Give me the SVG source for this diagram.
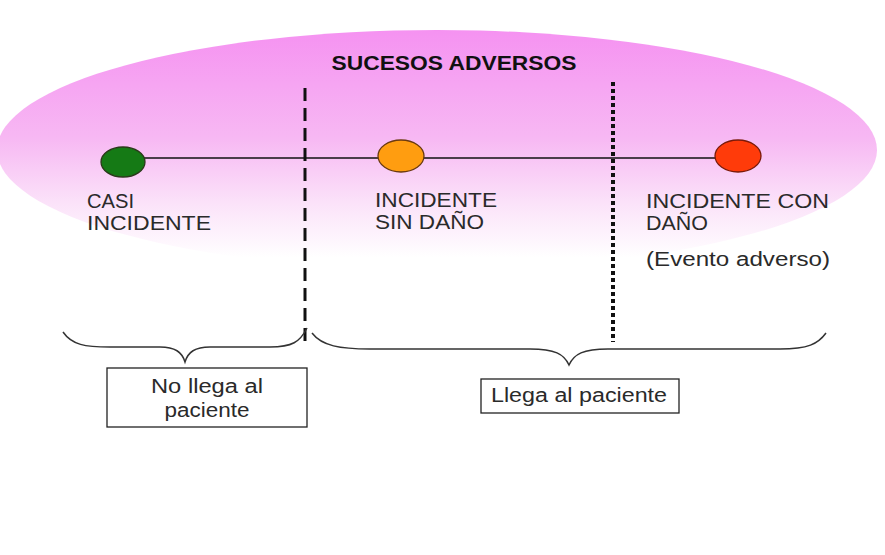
<svg xmlns="http://www.w3.org/2000/svg" width="885" height="555" viewBox="0 0 885 555">
<defs>
<linearGradient id="pink" x1="0" y1="0" x2="0" y2="1">
<stop offset="0" stop-color="#f592f1"/>
<stop offset="0.45" stop-color="#f7b8f3"/>
<stop offset="0.72" stop-color="#fbe2f9"/>
<stop offset="0.95" stop-color="#ffffff"/>
</linearGradient>
<style>
.lbl{font-family:"Liberation Sans",Arial,sans-serif;font-size:20px;fill:#2a2a2a}
.box{fill:#fff;stroke:#222;stroke-width:1.3}
.brace{fill:none;stroke:#333;stroke-width:1.5}
</style>
</defs>
<rect width="885" height="555" fill="#fff"/>
<ellipse cx="437" cy="150" rx="440" ry="120" fill="url(#pink)"/>
<text x="454" y="70" text-anchor="middle" font-family="Liberation Sans,Arial,sans-serif" font-weight="bold" font-size="20" fill="#111" textLength="245" lengthAdjust="spacingAndGlyphs">SUCESOS ADVERSOS</text>
<g id="connectors">
<line x1="123" y1="158" x2="738" y2="158" stroke="#111" stroke-width="1.6"/>
<line x1="305" y1="88" x2="305" y2="342" stroke="#111" stroke-width="3" stroke-dasharray="13 7"/>
<line x1="613" y1="82" x2="613" y2="342" stroke="#111" stroke-width="4" stroke-dasharray="4 3"/>
<path class="brace" d="M63,332 C72,345 85,347 110,347 L160,347 C175,347 182,352 185,362 C188,352 195,347 210,347 L270,347 C292,347 300,342 307,328"/>
<path class="brace" d="M312,333 C322,346 340,349 370,349 L530,349 C555,349 564,354 569,365 C574,354 583,349 608,349 L780,349 C808,349 818,344 826,333"/>
</g>
<g id="casi">
<ellipse cx="123" cy="162" rx="22" ry="15" fill="#157a15" stroke="#2a3a1a" stroke-width="1.3"/>
<text class="lbl" x="87" y="208" textLength="47" lengthAdjust="spacingAndGlyphs">CASI</text>
<text class="lbl" x="87" y="230" textLength="124" lengthAdjust="spacingAndGlyphs">INCIDENTE</text>
</g>
<g id="sin">
<ellipse cx="401" cy="156" rx="23" ry="16" fill="#ff9d10" stroke="#6a3a10" stroke-width="1.3"/>
<text class="lbl" x="375" y="207" textLength="122" lengthAdjust="spacingAndGlyphs">INCIDENTE</text>
<text class="lbl" x="375" y="229" textLength="109" lengthAdjust="spacingAndGlyphs">SIN DAÑO</text>
</g>
<g id="con">
<ellipse cx="738" cy="156" rx="23" ry="16" fill="#ff3b0a" stroke="#7a1a0a" stroke-width="1.3"/>
<text class="lbl" x="646" y="208" textLength="183" lengthAdjust="spacingAndGlyphs">INCIDENTE CON</text>
<text class="lbl" x="646" y="230" textLength="62" lengthAdjust="spacingAndGlyphs">DAÑO</text>
<text class="lbl" x="646" y="266" textLength="184" lengthAdjust="spacingAndGlyphs">(Evento adverso)</text>
</g>
<g id="no-llega">
<rect class="box" x="107" y="368" width="200" height="59"/>
<text class="lbl" x="207" y="393" text-anchor="middle" textLength="112" lengthAdjust="spacingAndGlyphs">No llega al</text>
<text class="lbl" x="207" y="417" text-anchor="middle" textLength="85" lengthAdjust="spacingAndGlyphs">paciente</text>
</g>
<g id="llega">
<rect class="box" x="481" y="379" width="198" height="34"/>
<text class="lbl" x="491" y="402" textLength="176" lengthAdjust="spacingAndGlyphs">Llega al paciente</text>
</g>
</svg>
